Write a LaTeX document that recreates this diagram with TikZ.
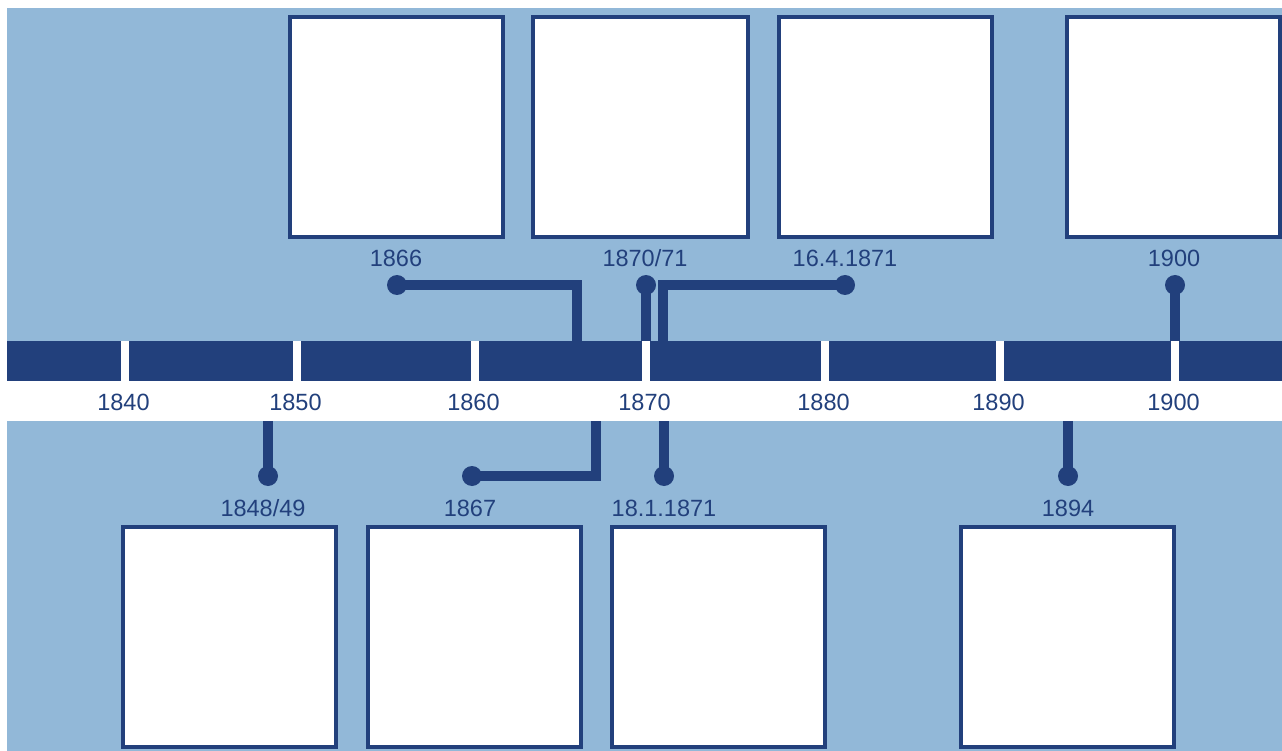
\documentclass[tikz,border=0pt]{standalone}
\usepackage{fontspec}
\setmainfont{Liberation Sans}
\usepackage{tikz}
\definecolor{tlnavy}{RGB}{34,64,124}
\definecolor{tlsky}{RGB}{146,184,216}
\begin{document}
\begin{tikzpicture}[x=1pt,y=-1pt,
	card/.style={draw=tlnavy,line width=4pt,fill=white},
	conn/.style={draw=tlnavy,line width=9.5pt},
	dot/.style={circle,fill=tlnavy,minimum size=20pt,inner sep=0pt},
	yr/.style={text=tlnavy,anchor=base,inner sep=0pt,font=\fontsize{23.5}{28}\selectfont}]
			\useasboundingbox (0,0) rectangle (1282,751);
			\fill[tlsky] (7,8) rectangle (1282,751);
			\fill[white] (7,381) rectangle (1282,421);
			\fill[tlnavy] (7,341) rectangle (1282,381);
			\foreach \yr/\x in {1840/125,1850/297,1860/475,1870/646,1880/825,1890/1000,1900/1175}{
				\fill[white] (\x-4,341) rectangle (\x+4,381);
				\node[yr] (t\yr) at (\x-1.5,410.7) {\yr};
			}
			\draw[card] (290,17) rectangle (503,237);
			\draw[card] (533,17) rectangle (748,237);
			\draw[card] (779,17) rectangle (992,237);
			\draw[card] (1067,17) rectangle (1280,237);
			\draw[card] (123,527) rectangle (336,747);
			\draw[card] (368,527) rectangle (581,747);
			\draw[card] (612,527) rectangle (825,747);
			\draw[card] (961,527) rectangle (1174,747);
			\coordinate (b1866) at (577,341);
			\coordinate (b1870) at (646,341);
			\coordinate (b1871) at (663,341);
			\coordinate (b1900) at (1175,341);
			\coordinate (w1848) at (268,421);
			\coordinate (w1867) at (596,421);
			\coordinate (w1871) at (664,421);
			\coordinate (w1894) at (1068,421);
			\node[dot] (d1866) at (397,285) {};
			\node[dot] (d1870) at (646,285) {};
			\node[dot] (d1871a) at (845,285) {};
			\node[dot] (d1900) at (1175,285) {};
			\node[dot] (d1848) at (268,476) {};
			\node[dot] (d1867) at (472,476) {};
			\node[dot] (d1871b) at (664,476) {};
			\node[dot] (d1894) at (1068,476) {};
			\draw[conn] (d1866.center) -| (b1866);
			\draw[conn] (d1870.center) -- (b1870);
			\draw[conn] (d1871a.center) -| (b1871);
			\draw[conn] (d1900.center) -- (b1900);
			\draw[conn] (w1848) -- (d1848.center);
			\draw[conn] (w1867) |- (d1867.center);
			\draw[conn] (w1871) -- (d1871b.center);
			\draw[conn] (w1894) -- (d1894.center);
			\node[yr] (l1866) at (396,266.7) {1866};
			\node[yr] (l1870) at (645,266.7) {1870/71};
			\node[yr] (l1871a) at (845,266.7) {16.4.1871};
			\node[yr] (l1900) at (1174,266.7) {1900};
			\node[yr] (l1848) at (263,516) {1848/49};
			\node[yr] (l1867) at (470,516) {1867};
			\node[yr] (l1871b) at (664,516) {18.1.1871};
			\node[yr] (l1894) at (1068,516) {1894};
		\end{tikzpicture}
\end{document}
